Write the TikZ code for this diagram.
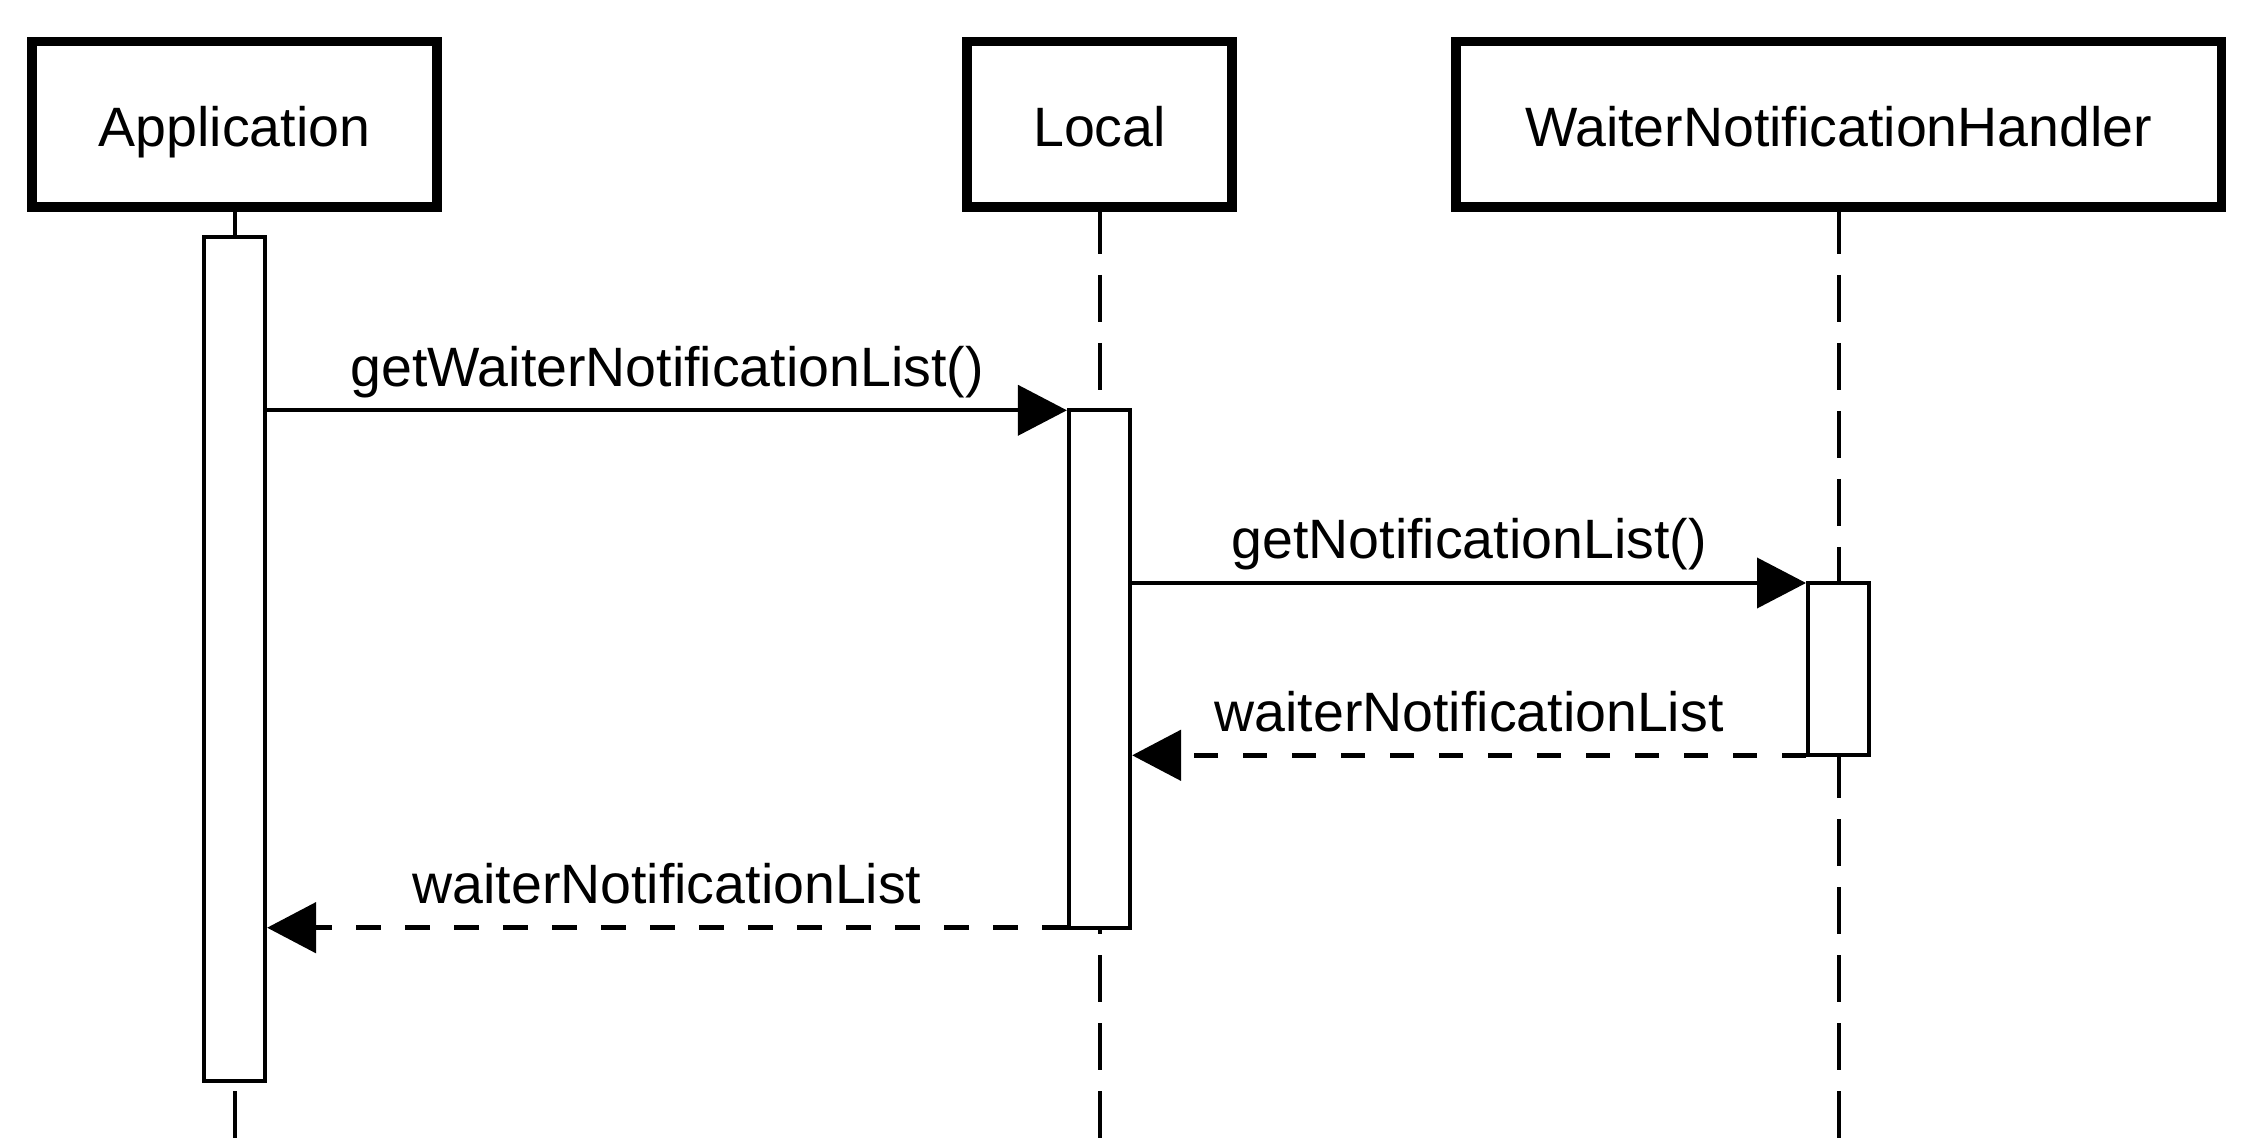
\documentclass[tikz,border=0pt]{standalone}
\usepackage{fontspec}
\setmainfont{Liberation Sans}
\usetikzlibrary{arrows.meta}
\begin{document}
\begin{tikzpicture}[x=0.5pt,y=-0.5pt,
  txt/.style={font=\fontsize{27.75pt}{33pt}\selectfont},
  actor/.style={draw, line width=4.75pt, fill=white, inner sep=0pt, outer sep=0pt,
    minimum height=82.75pt, text height=28pt, text depth=5.55pt, txt},
  actbar/.style={draw, line width=2pt, fill=white, inner sep=0pt, outer sep=0pt,
    minimum width=30.6pt},
  life/.style={line width=2pt, dash pattern=on 23.5pt off 10.5pt},
  call/.style={line width=2pt, shorten >=1pt, -{Triangle[length=24.5pt,width=25pt]}},
  ret/.style={call, line width=2.6pt, shorten <=1pt, dash pattern=on 12.25pt off 12.25pt},
  lbl/.style={txt, anchor=base, inner sep=0pt, midway, yshift=12pt}
]
\path[fill=white, use as bounding box] (0,0) rectangle (2252,1143);

% participants
\node[actor, minimum width=202.45pt] (app) at (234.5,124.25) {Application};
\node[actor, minimum width=132.65pt] (loc) at (1099.5,124.25) {Local};
\node[actor, minimum width=382.75pt] (wnh) at (1838.6,124.25) {WaiterNotificationHandler};

% lifelines
\coordinate (appEnd) at (234.5,1138);
\coordinate (locEnd) at (1099.5,1138);
\coordinate (wnhEnd) at (1838.6,1138);
\draw[life] (app.south) -- (appEnd);
\draw[life] (loc.south) -- (locEnd);
\draw[life] (wnh.south) -- (wnhEnd);

% activations
\node[actbar, minimum height=422pt] (appAct) at (234.5,659) {};
\node[actbar, minimum height=258.7pt] (locAct) at (1099.5,669) {};
\node[actbar, minimum height=86.15pt] (wnhAct) at (1838.6,669.15) {};

% messages
\draw[call] (appAct.east |- locAct.north) -- (locAct.north west)
  node[lbl] {getWaiterNotificationList()};
\draw[call] (locAct.east |- wnhAct.north) -- (wnhAct.north west)
  node[lbl] {getNotificationList()};
\draw[ret] (wnhAct.south west) -- (locAct.east |- wnhAct.south)
  node[lbl] {waiterNotificationList};
\draw[ret] (locAct.south west) -- (appAct.east |- locAct.south)
  node[lbl] {waiterNotificationList};
\end{tikzpicture}
\end{document}
